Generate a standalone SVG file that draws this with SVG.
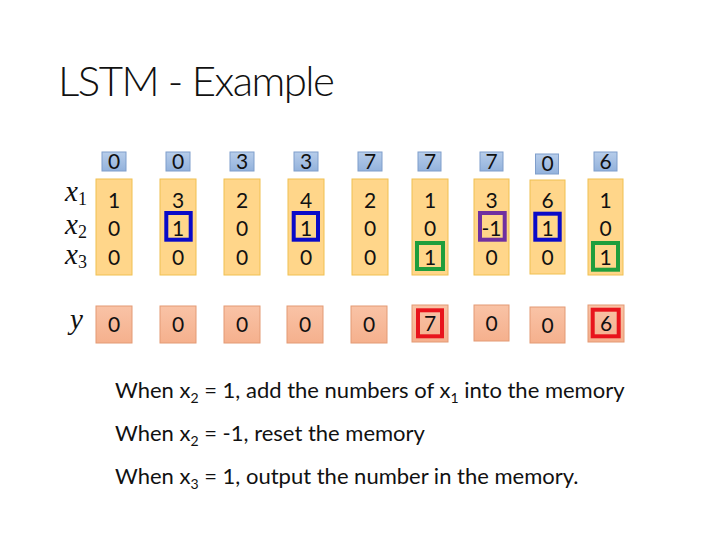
<svg xmlns="http://www.w3.org/2000/svg" width="720" height="540" viewBox="0 0 720 540">
<style>
.t{font-family:Lato,"Liberation Sans",sans-serif;fill:#111}
.d{font-family:Lato,"Liberation Sans",sans-serif;font-size:21px;fill:#111;text-anchor:middle}
.v{font-family:"Liberation Serif",serif;font-style:italic;fill:#111}
.mem{fill:url(#gb);stroke:#7f9ecb;stroke-width:1}
.inp{fill:#ffd68a;stroke:#f0c050;stroke-width:1}
.out{fill:url(#go);stroke:#e39a74;stroke-width:1}
.hb{fill:none;stroke:#0a0ac8;stroke-width:4}
.hg{fill:none;stroke:#1f9e3c;stroke-width:4}
.hp{fill:none;stroke:#7030a0;stroke-width:4}
.hr{fill:none;stroke:#e8141c;stroke-width:4}
</style>
<defs>
<linearGradient id="gb" x1="0" y1="0" x2="0" y2="1"><stop offset="0" stop-color="#b7cdea"/><stop offset="1" stop-color="#93b2dc"/></linearGradient>
<linearGradient id="go" x1="0" y1="0" x2="0" y2="1"><stop offset="0" stop-color="#f9c3a6"/><stop offset="1" stop-color="#f5b08d"/></linearGradient>
</defs>
<rect width="720" height="540" fill="#fff"/>
<text id="title" class="t" x="58" y="96" font-size="42" font-weight="300" textLength="277">LSTM - Example</text>
<g id="labels">
<text class="v" x="65" y="201" font-size="29">x<tspan font-size="18" dy="4" font-style="normal">1</tspan></text>
<text class="v" x="65" y="234" font-size="29">x<tspan font-size="18" dy="4" font-style="normal">2</tspan></text>
<text class="v" x="65" y="264" font-size="29">x<tspan font-size="18" dy="4" font-style="normal">3</tspan></text>
<text class="v" x="70" y="329" font-size="29">y</text>
</g>
<g id="col1"><rect class="mem" x="102" y="152" width="24" height="19"/><text class="d" x="114" y="169">0</text><rect class="inp" x="96" y="179" width="36" height="96"/><text class="d" x="114" y="208">1</text><text class="d" x="114" y="236">0</text><text class="d" x="114" y="265">0</text><rect class="out" x="96" y="306" width="36" height="37"/><text class="d" x="114" y="332">0</text></g>
<g id="col2"><rect class="mem" x="166" y="152" width="24" height="19"/><text class="d" x="178" y="169">0</text><rect class="inp" x="160" y="179" width="36" height="96"/><text class="d" x="178" y="208">3</text><text class="d" x="178" y="236">1</text><text class="d" x="178" y="265">0</text><rect class="hb" x="166.3" y="213" width="24.4" height="26.7"/><rect class="out" x="160" y="306" width="36" height="37"/><text class="d" x="178" y="332">0</text></g>
<g id="col3"><rect class="mem" x="230" y="152" width="24" height="19"/><text class="d" x="242" y="169">3</text><rect class="inp" x="224" y="179" width="36" height="96"/><text class="d" x="242" y="208">2</text><text class="d" x="242" y="236">0</text><text class="d" x="242" y="265">0</text><rect class="out" x="224" y="306" width="36" height="37"/><text class="d" x="242" y="332">0</text></g>
<g id="col4"><rect class="mem" x="294" y="152" width="24" height="19"/><text class="d" x="306" y="169">3</text><rect class="inp" x="288" y="179" width="36" height="96"/><text class="d" x="306" y="208">4</text><text class="d" x="306" y="236">1</text><text class="d" x="306" y="265">0</text><rect class="hb" x="293.7" y="213" width="24.3" height="26.7"/><rect class="out" x="287" y="306" width="36" height="37"/><text class="d" x="305" y="332">0</text></g>
<g id="col5"><rect class="mem" x="358" y="152" width="24" height="19"/><text class="d" x="370" y="169">7</text><rect class="inp" x="352" y="179" width="36" height="96"/><text class="d" x="370" y="208">2</text><text class="d" x="370" y="236">0</text><text class="d" x="370" y="265">0</text><rect class="out" x="351" y="306" width="36" height="37"/><text class="d" x="369" y="332">0</text></g>
<g id="col6"><rect class="mem" x="418" y="152" width="23" height="19"/><text class="d" x="430" y="169">7</text><rect class="inp" x="412" y="179" width="36" height="96"/><text class="d" x="430" y="208">1</text><text class="d" x="430" y="236">0</text><text class="d" x="430" y="265">1</text><rect class="hg" x="417" y="243" width="26" height="26"/><rect class="out" x="412" y="305" width="36" height="37"/><text class="d" x="430" y="331">7</text><rect class="hr" x="418" y="310.3" width="24" height="26"/></g>
<g id="col7"><rect class="mem" x="480" y="152" width="23" height="19"/><text class="d" x="491.5" y="169">7</text><rect class="inp" x="474" y="179" width="35" height="96"/><text class="d" x="491.5" y="208">3</text><text class="d" x="491.5" y="236">-1</text><text class="d" x="491.5" y="265">0</text><rect class="hp" x="480" y="213" width="24.7" height="26.7"/><rect class="out" x="474" y="305" width="35" height="36"/><text class="d" x="491.5" y="331">0</text></g>
<g id="col8"><rect class="mem" x="535.5" y="154" width="23" height="20"/><text class="d" x="547.5" y="171">0</text><rect class="inp" x="530" y="180" width="35" height="94"/><text class="d" x="547.5" y="208">6</text><text class="d" x="547.5" y="236">1</text><text class="d" x="547.5" y="265">0</text><rect class="hb" x="535.3" y="213.7" width="24.4" height="26"/><rect class="out" x="530" y="307" width="35" height="36"/><text class="d" x="547.5" y="333">0</text></g>
<g id="col9"><rect class="mem" x="594" y="152" width="23" height="19"/><text class="d" x="605.5" y="169">6</text><rect class="inp" x="588" y="179" width="35" height="96"/><text class="d" x="605.5" y="208">1</text><text class="d" x="605.5" y="236">0</text><text class="d" x="605.5" y="265">1</text><rect class="hg" x="593" y="243" width="25" height="26.7"/><rect class="out" x="588" y="305" width="36" height="37"/><text class="d" x="606" y="331">6</text><rect class="hr" x="592.7" y="309.7" width="26" height="26.6"/></g>
<g id="notes">
<text class="t" x="115" y="398" font-size="22">When x<tspan font-size="14" dy="5">2</tspan><tspan dy="-5"> = 1, add the numbers of x</tspan><tspan font-size="14" dy="5">1</tspan><tspan dy="-5"> into the memory</tspan></text>
<text class="t" x="115" y="441" font-size="22">When x<tspan font-size="14" dy="5">2</tspan><tspan dy="-5"> = -1, reset the memory</tspan></text>
<text class="t" x="115" y="484" font-size="22">When x<tspan font-size="14" dy="5">3</tspan><tspan dy="-5"> = 1, output the number in the memory.</tspan></text>
</g>
</svg>
